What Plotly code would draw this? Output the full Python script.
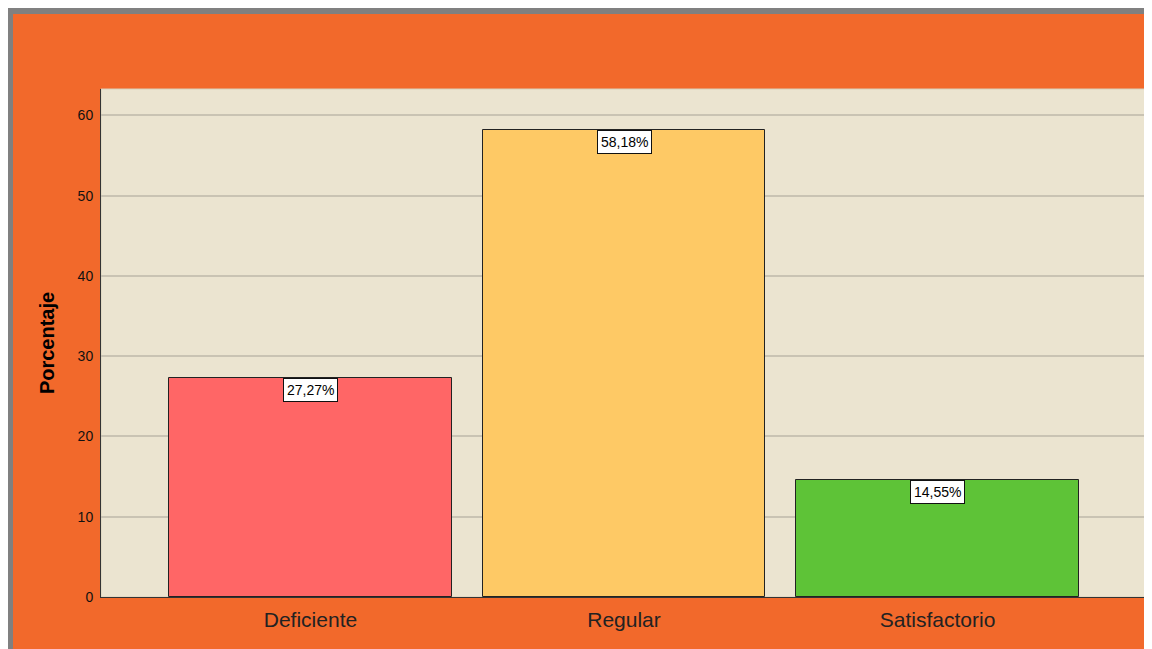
import plotly.graph_objects as go

categories = ["Deficiente", "Regular", "Satisfactorio"]
values = [27.27, 58.18, 14.55]
labels = ["27,27%", "58,18%", "14,55%"]
bar_colors = ["#ff6666", "#fec965", "#5ec337"]
y_ticks = [0, 10, 20, 30, 40, 50, 60]

# page body has an 8px margin, so figure coords = screen coords - 8
OFF = 8
W, H = 1152 - OFF, 649 - OFF
L, R, T, B = 101 - OFF, 1147 - OFF, 89 - OFF, 597 - OFF  # plot area pixel bounds
pw, ph = R - L, B - T

def px(x):
    return (x - L) / pw

def py(y):
    return (B - y) / ph

fig = go.Figure()
fig.add_trace(go.Bar(
    x=list(range(len(categories))), y=values,
    marker=dict(color=bar_colors, line=dict(color="#222222", width=1)),
    width=0.9, hoverinfo="skip",
))

annotations = []
for i, (v, lab) in enumerate(zip(values, labels)):
    annotations.append(dict(
        x=i, y=v, xref="x", yref="y", text=lab, showarrow=False,
        yanchor="top", xanchor="center", yshift=0,
        bgcolor="white", bordercolor="#111111", borderwidth=1, borderpad=3,
        font=dict(family="Arial, Liberation Sans", size=14, color="black"),
    ))

shapes = [
    # gray border (left and top)
    dict(type="rect", xref="paper", yref="paper", x0=px(0), x1=px(5), y0=py(H), y1=py(0),
         fillcolor="#808080", line=dict(width=0), layer="below"),
    dict(type="rect", xref="paper", yref="paper", x0=px(0), x1=px(W), y0=py(6), y1=py(0),
         fillcolor="#808080", line=dict(width=0), layer="below"),
    # plot frame (light)
    dict(type="rect", xref="paper", yref="paper", x0=0, x1=1, y0=0, y1=1,
         line=dict(color="#d8cfb8", width=1), fillcolor="rgba(0,0,0,0)", layer="below"),
]

fig.update_layout(
    width=W, height=H,
    margin=dict(l=L, r=W - R, t=T, b=H - B),
    paper_bgcolor="#f2692b",
    plot_bgcolor="#ebe4d0",
    showlegend=False,
    bargap=0,
    annotations=annotations,
    shapes=shapes,
    xaxis=dict(
        tickmode="array", tickvals=list(range(len(categories))), ticktext=categories,
        range=[-0.668, 2.668], showgrid=False, zeroline=False,
        showline=True, linecolor="#333333", linewidth=1, ticks="",
        ticklabelstandoff=4,
        tickfont=dict(family="Arial, Liberation Sans", size=21, color="#222222"),
    ),
    yaxis=dict(
        range=[0, 63.3], tickmode="array", tickvals=y_ticks,
        showgrid=True, gridcolor="#c9c3b3", gridwidth=1.5, zeroline=False,
        showline=True, linecolor="#333333", linewidth=1, ticks="",
        ticklabelstandoff=4,
        tickfont=dict(family="Arial, Liberation Sans", size=14, color="#111111"),
        title=dict(text="<b>Porcentaje</b>", font=dict(family="Arial, Liberation Sans", size=20, color="black"),
                   standoff=17),
    ),
)

fig.write_html("out.html")
